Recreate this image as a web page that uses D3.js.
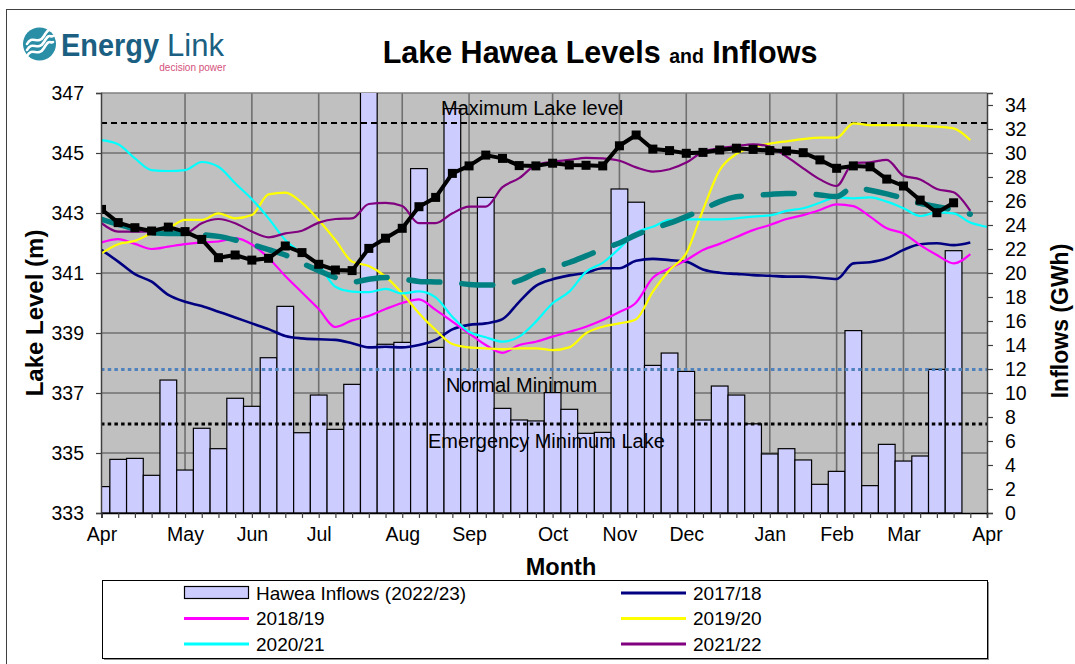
<!DOCTYPE html>
<html>
<head>
<meta charset="utf-8">
<script src="https://cdn.jsdelivr.net/npm/d3@7"></script>
<style>
  body { margin: 0; background: #fff; }
  svg { display: block; font-family: "Liberation Sans", Arial, sans-serif; }
</style>
</head>
<body>
<svg id="chart" width="1075" height="664"></svg>
<script>
// month labels sit on week boundaries (4-4-5 style weeks)
const monthLabels = ["Apr","May","Jun","Jul","Aug","Sep","Oct","Nov","Dec","Jan","Feb","Mar","Apr"];
const monthWeeks  = [0, 5, 9, 13, 18, 22, 27, 31, 35, 40, 44, 48, 53];

// weekly inflows 2022/23 (GWh, right axis)
const inflows2223 = [2.2, 4.47, 4.55, 3.14, 11.08, 3.58, 7.06, 5.36, 9.56, 8.89,
  12.94, 17.22, 6.69, 9.83, 6.97, 10.72, 36.5, 14.06, 14.22, 28.7,
  13.8, 33.7, 11.9, 26.3, 8.72, 7.75, 7.67, 10.03, 8.64, 6.64,
  6.72, 27.0, 25.9, 12.3, 13.33, 11.8, 7.75, 10.58, 9.83, 7.43,
  4.92, 5.36, 4.42, 2.39, 3.47, 15.2, 2.28, 5.72, 4.33, 4.75,
  11.97, 21.86];

// weekly lake levels (m, left axis)
const level1718 = [341.77, 341.38, 340.96, 340.71, 340.27, 340.04, 339.9, 339.71, 339.52, 339.32,
  339.13, 338.9, 338.82, 338.79, 338.77, 338.66, 338.52, 338.54, 338.52, 338.6,
  338.77, 339.12, 339.27, 339.32, 339.46, 340.04, 340.57, 340.79, 340.92, 341.01,
  341.16, 341.16, 341.41, 341.47, 341.43, 341.38, 341.12, 341.01, 340.97, 340.93,
  340.91, 340.88, 340.88, 340.84, 340.8, 341.32, 341.36, 341.49, 341.77, 341.96,
  341.99, 341.93, 342.02];
const level1819 = [342.02, 342.13, 341.97, 341.8, 341.88, 341.96, 342.02, 342.05, 342.16, 341.95,
  341.5, 340.9, 340.35, 339.8, 339.2, 339.42, 339.57, 339.8, 340.0, 340.12,
  339.77, 339.38, 338.99, 338.6, 338.34, 338.6, 338.71, 338.88, 339.04, 339.21,
  339.43, 339.7, 340.02, 340.84, 341.16, 341.43, 341.77, 341.97, 342.2, 342.43,
  342.6, 342.8, 342.93, 343.1, 343.29, 343.23, 342.88, 342.49, 342.32, 341.93,
  341.6, 341.32, 341.63];
const level1920 = [341.66, 341.96, 342.07, 342.32, 342.49, 342.77, 342.77, 342.99, 342.82, 342.93,
  343.62, 343.68, 343.34, 342.77, 342.1, 341.38, 341.23, 340.88, 340.32, 339.66,
  339.1, 338.63, 338.52, 338.49, 338.46, 338.49, 338.49, 338.43, 338.52, 338.99,
  339.21, 339.32, 339.46, 340.38, 341.1, 341.66, 343.1, 344.43, 344.97, 345.2,
  345.31, 345.39, 345.46, 345.51, 345.51, 345.99, 345.93, 345.93, 345.93, 345.91,
  345.88, 345.82, 345.43];
const level2021 = [345.43, 345.29, 344.82, 344.43, 344.4, 344.43, 344.7, 344.54, 343.99, 343.46,
  342.82, 342.1, 341.66, 341.27, 340.54, 340.38, 340.36, 340.47, 340.32, 340.39,
  340.19, 339.54, 339.04, 338.86, 338.71, 338.88, 339.38, 339.99, 340.38, 341.04,
  341.34, 341.82, 342.34, 342.54, 342.77, 342.79, 342.79, 342.79, 342.82, 342.88,
  342.92, 343.07, 343.16, 343.34, 343.52, 343.49, 343.52, 343.38, 343.16, 342.9,
  343.02, 342.99, 342.68, 342.54];
const level2122 = [342.66, 342.38, 342.38, 342.38, 342.38, 342.32, 342.66, 342.8, 342.66, 342.38,
  342.19, 342.32, 342.41, 342.68, 342.8, 342.82, 343.3, 343.34, 343.23, 342.66,
  342.66, 342.99, 343.21, 343.21, 343.86, 344.16, 344.6, 344.71, 344.77, 344.84,
  344.82, 344.74, 344.52, 344.38, 344.46, 344.68, 345.04, 345.16, 345.23, 345.29,
  345.21, 344.88, 344.49, 344.12, 343.9, 344.66, 344.69, 344.77, 344.24, 344.12,
  343.8, 343.69, 343.07];
const levelAverage = [342.79, 342.62, 342.47, 342.34, 342.32, 342.32, 342.28, 342.22, 342.1, 341.95,
  341.78, 341.6, 341.33, 341.08, 340.85, 340.7, 340.79, 340.85, 340.8, 340.72,
  340.7, 340.68, 340.62, 340.6, 340.62, 340.75, 341.0, 341.18, 341.35, 341.57,
  341.8, 342.0, 342.27, 342.48, 342.66, 342.88, 343.12, 343.38, 343.54, 343.58,
  343.62, 343.65, 343.65, 343.6, 343.55, 343.85, 343.76, 343.64, 343.49, 343.32,
  343.21, 343.1, 342.96];
const level2223 = [343.12, 342.68, 342.51, 342.4, 342.53, 342.38, 342.12, 341.51, 341.6, 341.43,
  341.49, 341.9, 341.68, 341.29, 341.1, 341.08, 341.82, 342.16, 342.49, 343.21,
  343.52, 344.32, 344.57, 344.93, 344.82, 344.58, 344.57, 344.66, 344.6, 344.59,
  344.57, 345.24, 345.6, 345.13, 345.08, 344.99, 345.02, 345.1, 345.16, 345.12,
  345.08, 345.07, 345.01, 344.77, 344.49, 344.57, 344.54, 344.13, 343.9, 343.43,
  343.01, 343.34];

const maxLakeLevel = 346.0;
const normalMinimum = 337.78;
const emergencyMinimum = 335.97;

const svg = d3.select("#chart");
const pLeft = 101, pRight = 987, pTop = 93, pBottom = 513;

const x = d3.scaleLinear().domain([0, 53]).range([101.5, 987]);
const yL = d3.scaleLinear().domain([333, 347]).range([pBottom, pTop]);
const yR = d3.scaleLinear().domain([0, 35]).range([pBottom, pTop]);

// outer frame
svg.append("rect").attr("x", 6.5).attr("y", 9.5).attr("width", 1080).attr("height", 700)
  .attr("fill", "#fff").attr("stroke", "#404040").attr("stroke-width", 1);

// logo
const logo = svg.append("g");
logo.append("circle").attr("cx", 39.5).attr("cy", 44).attr("r", 16.5).attr("fill", "#2a8ea6");
[-6, 0, 6].forEach(dy => {
  logo.append("path")
    .attr("d", `M27 ${50 + dy} C 32 ${40 + dy}, 38 ${52 + dy}, 44 ${42 + dy} S 50 ${38 + dy}, 53 ${36 + dy}`)
    .attr("fill", "none").attr("stroke", "#fff").attr("stroke-width", 2.6).attr("stroke-linecap", "round");
});
logo.append("text").attr("x", 61).attr("y", 56).attr("font-size", 32).attr("font-weight", "bold")
  .attr("textLength", 98).attr("lengthAdjust", "spacingAndGlyphs")
  .attr("fill", "#1b5f82").text("Energy");
logo.append("text").attr("x", 167).attr("y", 56).attr("font-size", 32)
  .attr("textLength", 57).attr("lengthAdjust", "spacingAndGlyphs")
  .attr("fill", "#1b5f82").text("Link");
logo.append("text").attr("x", 226).attr("y", 71).attr("text-anchor", "end")
  .attr("font-size", 10).attr("fill", "#d4507a").text("decision power");

// title
svg.append("text").attr("x", 600).attr("y", 63).attr("text-anchor", "middle")
  .attr("font-weight", "bold").attr("font-size", 30.5)
  .html('Lake Hawea Levels <tspan font-size="19.5">and</tspan> Inflows');

// plot background
svg.append("rect").attr("x", pLeft).attr("y", pTop).attr("width", pRight - pLeft).attr("height", pBottom - pTop)
  .attr("fill", "#c0c0c0");

svg.append("clipPath").attr("id", "plotClip").append("rect")
  .attr("x", pLeft).attr("y", pTop).attr("width", pRight - pLeft).attr("height", pBottom - pTop);

// gridlines
const grid = svg.append("g").attr("stroke", "#707070").attr("stroke-width", 1.6);
grid.selectAll("line.h").data(d3.range(335, 347, 2)).join("line").attr("class", "h")
  .attr("x1", pLeft).attr("x2", pRight).attr("y1", d => yL(d)).attr("y2", d => yL(d));
grid.selectAll("line.v").data(monthWeeks.slice(1, -1)).join("line").attr("class", "v")
  .attr("x1", d => x(d)).attr("x2", d => x(d)).attr("y1", pTop).attr("y2", pBottom);
grid.append("line").attr("x1", pLeft).attr("x2", pRight).attr("y1", pTop).attr("y2", pTop).attr("stroke", "#808080");

const plotG = svg.append("g").attr("clip-path", "url(#plotClip)");

// inflow bars
const bw = x(1) - x(0);
plotG.selectAll("rect.bar").data(inflows2223).join("rect").attr("class", "bar")
  .attr("x", (d, i) => x(i) - bw / 2).attr("width", bw)
  .attr("y", d => yR(d)).attr("height", d => yR(0) - yR(d))
  .attr("fill", "#ccccff").attr("stroke", "#000").attr("stroke-width", 1.2);

// reference levels
plotG.append("line").attr("x1", pLeft).attr("x2", pRight)
  .attr("y1", yL(maxLakeLevel)).attr("y2", yL(maxLakeLevel))
  .attr("stroke", "#000").attr("stroke-width", 2).attr("stroke-dasharray", "6,4");
plotG.append("line").attr("x1", pLeft).attr("x2", pRight)
  .attr("y1", yL(normalMinimum)).attr("y2", yL(normalMinimum))
  .attr("stroke", "#4f81bd").attr("stroke-width", 3).attr("stroke-dasharray", "3.5,3.2");
plotG.append("line").attr("x1", pLeft).attr("x2", pRight)
  .attr("y1", yL(emergencyMinimum)).attr("y2", yL(emergencyMinimum))
  .attr("stroke", "#000").attr("stroke-width", 3).attr("stroke-dasharray", "3.5,3.2");

// level lines
const smooth = d3.line().x((d, i) => x(i)).y(d => yL(d)).curve(d3.curveMonotoneX);
const series = [
  { values: level1718, color: "#000080", width: 2.6 },
  { values: level1819, color: "#ff00ff", width: 2.2 },
  { values: level1920, color: "#ffff00", width: 2.2 },
  { values: level2021, color: "#00ffff", width: 2.2 },
  { values: level2122, color: "#800080", width: 2.2 }
];
series.forEach(s => {
  plotG.append("path").attr("d", smooth(s.values)).attr("fill", "none")
    .attr("stroke", s.color).attr("stroke-width", s.width).attr("stroke-linejoin", "round");
});

plotG.append("path").attr("d", smooth(levelAverage)).attr("fill", "none")
  .attr("stroke", "#008080").attr("stroke-width", 5.5)
  .attr("stroke-dasharray", "31,22").attr("stroke-linecap", "round");

const straight = d3.line().x((d, i) => x(i)).y(d => yL(d));
plotG.append("path").attr("d", straight(level2223)).attr("fill", "none")
  .attr("stroke", "#000").attr("stroke-width", 4).attr("stroke-linejoin", "round");
plotG.selectAll("rect.mk").data(level2223).join("rect").attr("class", "mk")
  .attr("x", (d, i) => x(i) - 4.5).attr("y", d => yL(d) - 4.5)
  .attr("width", 9).attr("height", 9).attr("fill", "#000");

// annotations
const notes = svg.append("g").attr("font-size", 20).attr("fill", "#000");
notes.append("text").attr("x", 441).attr("y", 115).text("Maximum Lake level");
notes.append("text").attr("x", 446).attr("y", 392).text("Normal Minimum");
notes.append("text").attr("x", 428).attr("y", 448).text("Emergency Minimum Lake");

// axes
const axisL = svg.append("g").attr("transform", `translate(${pLeft},0)`)
  .call(d3.axisLeft(yL).tickValues(d3.range(333, 348, 2)).tickSize(5).tickPadding(12).tickFormat(d3.format("d")));
const axisR = svg.append("g").attr("transform", `translate(${pRight},0)`)
  .call(d3.axisRight(yR).tickValues(d3.range(0, 35, 2)).tickSize(6).tickPadding(12));
const axisB = svg.append("g").attr("transform", `translate(0,${pBottom})`)
  .call(d3.axisBottom(x).tickValues(d3.range(0, 54)).tickSize(5).tickFormat(""));
const axisM = svg.append("g").attr("transform", `translate(0,${pBottom})`)
  .call(d3.axisBottom(x).tickValues(monthWeeks).tickSize(0).tickPadding(14)
    .tickFormat((d, i) => monthLabels[i]));
axisM.select(".domain").remove();
[axisL, axisR, axisB, axisM].forEach(g => {
  g.selectAll("text").attr("font-size", 19.5).attr("font-family", "Liberation Sans, Arial, sans-serif").attr("fill", "#000");
  g.selectAll("line").attr("stroke", "#404040").attr("stroke-width", 1.2);
  g.select(".domain").attr("stroke", "#404040").attr("stroke-width", 1.5);
});
axisB.select(".domain").attr("stroke", "#000");

// axis titles
svg.append("text").attr("transform", "translate(43,313) rotate(-90)").attr("text-anchor", "middle")
  .attr("font-weight", "bold").attr("font-size", 24).text("Lake Level (m)");
svg.append("text").attr("transform", "translate(1068,321) rotate(-90)").attr("text-anchor", "middle")
  .attr("font-weight", "bold").attr("font-size", 23).text("Inflows (GWh)");
svg.append("text").attr("x", 561).attr("y", 575).attr("text-anchor", "middle")
  .attr("font-weight", "bold").attr("font-size", 23.5).text("Month");

// legend
const lg = svg.append("g");
lg.append("rect").attr("x", 104).attr("y", 582).attr("width", 885).attr("height", 78).attr("fill", "#909090");
lg.append("rect").attr("x", 102.5).attr("y", 580.5).attr("width", 885).attr("height", 78)
  .attr("fill", "#fff").attr("stroke", "#000").attr("stroke-width", 1);
const legendItems = [
  { label: "Hawea Inflows (2022/23)", bar: true },
  { label: "2017/18", color: "#000080" },
  { label: "2018/19", color: "#ff00ff" },
  { label: "2019/20", color: "#ffff00" },
  { label: "2020/21", color: "#00ffff" },
  { label: "2021/22", color: "#800080" }
];
legendItems.forEach((d, i) => {
  const cx = i % 2 === 0 ? 184 : 621;
  const cy = 593 + Math.floor(i / 2) * 25.5;
  if (d.bar) {
    lg.append("rect").attr("x", cx + 0.5).attr("y", cy - 6.5).attr("width", 64).attr("height", 12)
      .attr("fill", "#ccccff").attr("stroke", "#000").attr("stroke-width", 1.2);
  } else {
    lg.append("line").attr("x1", cx).attr("x2", cx + 65).attr("y1", cy).attr("y2", cy)
      .attr("stroke", d.color).attr("stroke-width", 3);
  }
  lg.append("text").attr("x", cx + 72).attr("y", cy + 6.5).attr("font-size", 19).text(d.label);
});
</script>
</body>
</html>
